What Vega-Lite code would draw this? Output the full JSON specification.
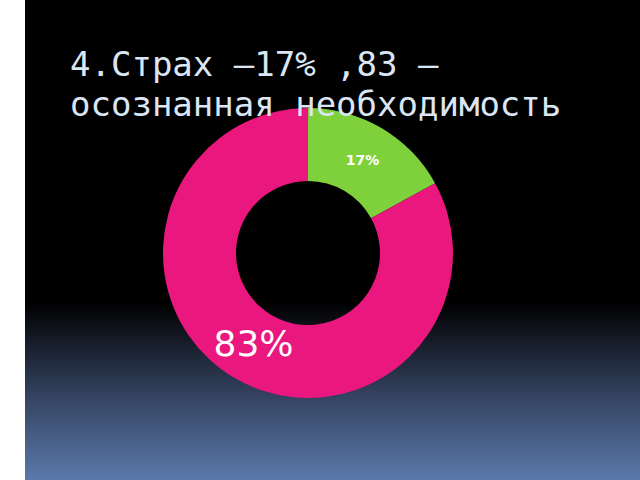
{
  "$schema": "https://vega.github.io/schema/vega-lite/v6.json",
  "description": "Donut: fear 17%, conscious necessity 83%.",
  "width": 640,
  "height": 480,
  "autosize": {"type": "fit", "contains": "padding"},
  "padding": {"left": 25, "top": 0, "right": 0, "bottom": 0},
  "background": "white",
  "title": {
    "text": ["4.Страх –17% ,83 –", "осознанная необходимость"],
    "orient": "top",
    "anchor": "start",
    "frame": "group",
    "baseline": "alphabetic",
    "offset": -73,
    "dx": 45,
    "dy": 77,
    "font": "DejaVu Sans Mono",
    "fontSize": 34,
    "fontWeight": "normal",
    "lineHeight": 40,
    "color": "#dae6f4",
    "zindex": 1
  },
  "data": {
    "values": [
      {"category": "Страх", "value": 17, "label": "17%"},
      {"category": "осознанная необходимость", "value": 83, "label": "83%"}
    ]
  },
  "layer": [
    {
      "mark": {
        "type": "rect",
        "color": {
          "gradient": "linear",
          "x1": 0, "y1": 0, "x2": 0, "y2": 1,
          "stops": [
            {"offset": 0, "color": "#000000"},
            {"offset": 0.63, "color": "#000000"},
            {"offset": 0.82, "color": "#33415e"},
            {"offset": 1, "color": "#5b79ab"}
          ]
        }
      },
      "encoding": {}
    },
    {
      "mark": {
        "type": "arc",
        "outerRadius": 145,
        "innerRadius": 72,
        "x": {"expr": "width / 2 - 24.5"},
        "y": {"expr": "height / 2 + 13"}
      },
      "encoding": {
        "theta": {"field": "value", "type": "quantitative", "stack": true},
        "order": {"field": "value", "type": "quantitative", "sort": "ascending"},
        "color": {
          "field": "category",
          "type": "nominal",
          "scale": {
            "domain": ["Страх", "осознанная необходимость"],
            "range": ["#7fd13b", "#e9177e"]
          },
          "legend": null
        }
      }
    },
    {
      "mark": {
        "type": "text",
        "radius": 107,
        "x": {"expr": "width / 2 - 24.5"},
        "y": {"expr": "height / 2 + 13"},
        "font": "DejaVu Sans",
        "fontWeight": {"expr": "datum.value < 50 ? 'bold' : 'normal'"},
        "color": "white"
      },
      "encoding": {
        "theta": {"field": "value", "type": "quantitative", "stack": true},
        "order": {"field": "value", "type": "quantitative", "sort": "ascending"},
        "text": {"field": "label"},
        "size": {
          "condition": {"test": "datum.value < 50", "value": 14},
          "value": 36
        }
      }
    }
  ],
  "config": {
    "view": {"stroke": null}
  }
}
